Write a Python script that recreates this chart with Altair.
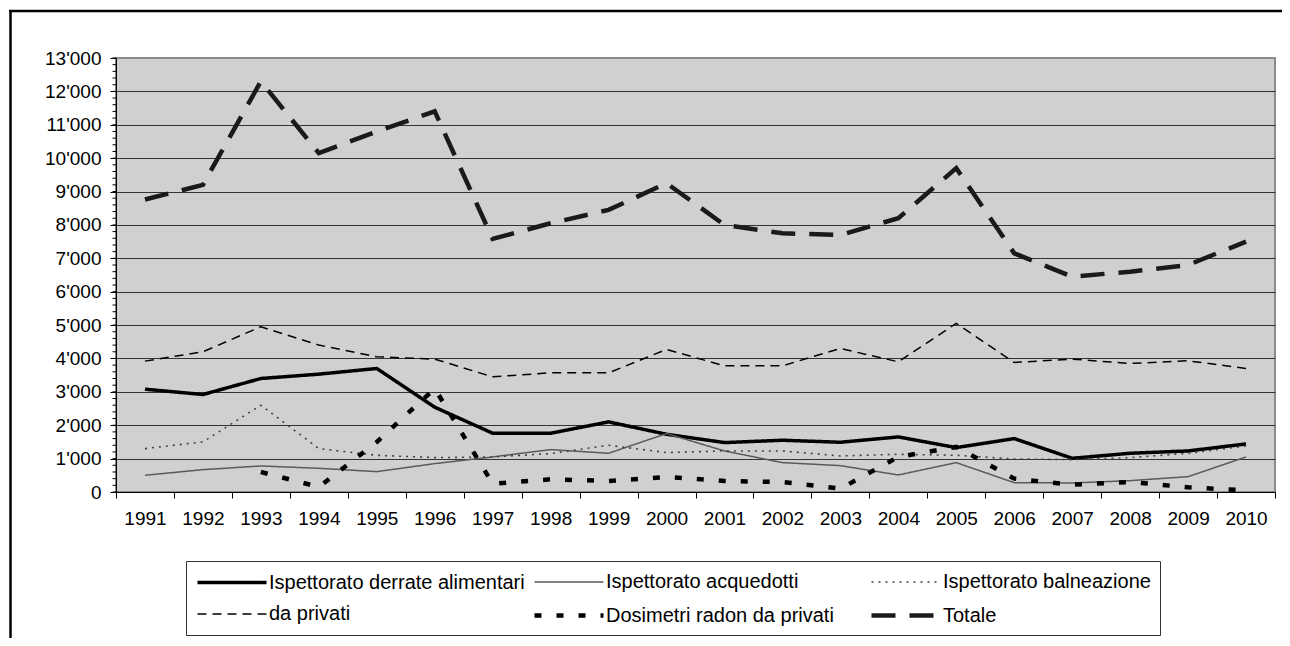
import altair as alt
import pandas as pd

years = list(range(1991, 2011))
series = [
    "Ispettorato derrate alimentari",
    "Ispettorato acquedotti",
    "Ispettorato balneazione",
    "da privati",
    "Dosimetri radon da privati",
    "Totale",
]
derrate = [3080, 2920, 3400, 3530, 3700, 2540, 1760, 1760, 2100, 1730,
           1480, 1550, 1490, 1650, 1330, 1600, 1010, 1160, 1230, 1440]
acquedotti = [500, 670, 780, 710, 610, 850, 1050, 1270, 1160, 1750,
              1230, 880, 790, 510, 880, 280, 270, 340, 460, 1050]
balneazione = [1300, 1500, 2600, 1300, 1100, 1030, 1050, 1150, 1400, 1180,
               1230, 1230, 1080, 1130, 1100, 990, 970, 1030, 1160, 1380]
privati = [3920, 4200, 4950, 4400, 4050, 3980, 3450, 3570, 3570, 4270,
           3780, 3780, 4300, 3900, 5050, 3880, 3980, 3850, 3930, 3700]
radon = [None, None, 600, 150, 1500, 3100, 250, 380, 330, 450,
         330, 300, 100, 1050, 1350, 400, 220, 300, 140, 50]
totale = [8760, 9200, 12300, 10150, 10800, 11400, 7580, 8050, 8450, 9250,
          8000, 7750, 7700, 8200, 9700, 7150, 6450, 6600, 6800, 7500]
y_major = list(range(0, 13001, 1000))
y_minor = list(range(0, 13001, 200))

values = [derrate, acquedotti, balneazione, privati, radon, totale]
rows = []
for name, vals in zip(series, values):
    for yr, v in zip(years, vals):
        if v is not None:
            rows.append({"Anno": str(yr), "Valore": v, "Serie": name})
df = pd.DataFrame(rows)

colors = ["#000000", "#5a5a5a", "#404040", "#000000", "#000000", "#1a1a1a"]
dashes = [[1, 0], [1, 0], [2, 5], [9, 6], [7, 15], [24, 14]]
widths = [3.5, 1.5, 1.6, 1.5, 4.5, 4.5]

FONT = "Liberation Sans"

leg = alt.Legend(
    title=None, orient="none", legendX=70, legendY=503, columns=3,
    direction="horizontal",
    symbolType="M-1,0H5.9", symbolSize=400, labelFont=FONT, labelFontSize=20,
    labelColor="#000000", strokeColor="#333333", padding=9, columnPadding=0,
    rowPadding=10, labelOffset=49, gridAlign="all", labelLimit=400,
    fillColor="#ffffff", symbolFillColor="transparent",
)

y_axis = alt.Axis(title=None, values=y_major, labelOverlap=False,
                  labelExpr="replace(format(datum.value, ','), ',', \"'\")",
                  labelFont=FONT, labelFontSize=19, labelColor="#000000",
                  domainColor="#000000", tickColor="#000000", tickSize=6,
                  labelPadding=9, grid=True,
                  gridColor={"condition": {"test": "datum.value === 13000", "value": "#8c8c8c"},
                             "value": "#333333"},
                  gridWidth=1)
y_scale = alt.Scale(domain=[0, 13000], nice=False)

lines = alt.Chart(df).mark_line(clip=False).encode(
    x=alt.X("Anno:O", bandPosition=0.5,
            scale=alt.Scale(type="band", paddingInner=0, paddingOuter=0),
            axis=alt.Axis(title=None, labelAngle=0, tickBand="extent",
                          labelFont=FONT, labelFontSize=19, labelColor="#000000",
                          domainColor="#000000", tickColor="#000000",
                          tickSize=6, labelPadding=11, grid=False)),
    y=alt.Y("Valore:Q", scale=y_scale, axis=y_axis),
    color=alt.Color("Serie:O", scale=alt.Scale(type="ordinal", domain=series, range=colors), legend=leg),
    strokeDash=alt.StrokeDash("Serie:O", scale=alt.Scale(type="ordinal", domain=series, range=dashes), legend=leg),
    strokeWidth=alt.StrokeWidth("Serie:O", scale=alt.Scale(type="ordinal", domain=series, range=widths), legend=leg),
    order=alt.Order("Anno:O"),
)

minor = alt.Chart(pd.DataFrame({"Valore": y_minor})).mark_rule(color="#000000", strokeWidth=1).encode(
    y=alt.Y("Valore:Q", scale=y_scale, axis=y_axis), x=alt.value(-3.5), x2=alt.value(0)
)

frame_df = pd.DataFrame({"k": [0]})
frame_v = alt.Chart(frame_df).mark_rule(color="#000000", strokeWidth=2.5).encode(
    x=alt.value(-105.5), y=alt.value(-47), y2=alt.value(700)
)
frame_h = alt.Chart(frame_df).mark_rule(color="#000000", strokeWidth=2.5).encode(
    y=alt.value(-47), x=alt.value(-107), x2=alt.value(1166)
)

chart = alt.layer(lines, minor, frame_v, frame_h).properties(
    width=1159, height=434,
    autosize=alt.AutoSizeParams(type="none"),
    padding={"left": 108, "top": 50, "right": 7, "bottom": 146},
    background="#ffffff",
).configure_view(
    fill="#d0d0d0", stroke="#8c8c8c", strokeWidth=2,
).configure_axis(
    labelOverlap=False,
)

chart.save("out.html", embed_options={"renderer": "svg", "actions": False})
